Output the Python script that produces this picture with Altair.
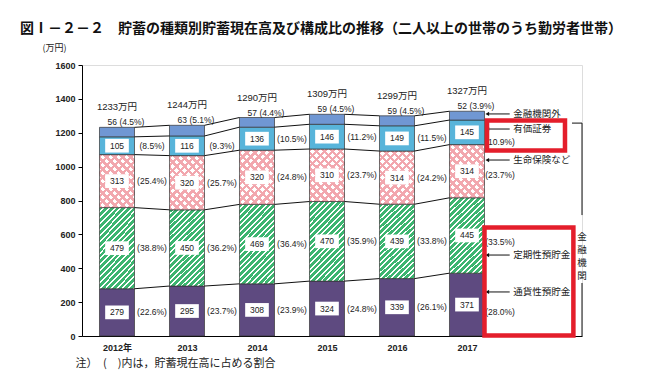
import json
import altair as alt
import pandas as pd

# ---------------- data ----------------
years = ["2012年", "2013", "2014", "2015", "2016", "2017"]
totals = [1233, 1244, 1290, 1309, 1299, 1327]
series_names = ["通貨性預貯金", "定期性預貯金", "生命保険など", "有価証券", "金融機関外"]
tsuka = [279, 295, 308, 324, 339, 371]
tsuka_pct = [22.6, 23.7, 23.9, 24.8, 26.1, 28.0]
teiki = [479, 450, 469, 470, 439, 445]
teiki_pct = [38.8, 36.2, 36.4, 35.9, 33.8, 33.5]
seimei = [313, 320, 320, 310, 314, 314]
seimei_pct = [25.4, 25.7, 24.8, 23.7, 24.2, 23.7]
yuka = [105, 116, 136, 146, 149, 145]
yuka_pct = [8.5, 9.3, 10.5, 11.2, 11.5, 10.9]
gaibu = [56, 63, 57, 59, 59, 52]
gaibu_pct = [4.5, 5.1, 4.4, 4.5, 4.5, 3.9]
y_ticks = [0, 200, 400, 600, 800, 1000, 1200, 1400, 1600]

title_text = "図Ⅰ－２－２　貯蓄の種類別貯蓄現在高及び構成比の推移（二人以上の世帯のうち勤労者世帯）"
unit_text = "(万円)"
note_text = "注）　(　)内は，貯蓄現在高に占める割合"
bracket_text = "金\n融\n機\n関"

# right-hand annotation (for the 2017 bar): arrow heights and percent label heights (万円 units)
ann_arrow_y = [260, 478, 1039, 1222, 1311]
ann_pct_y = [142, 555, 950, 1145, None]

# ---------------- styles ----------------
BAR_HALF = 0.25
JP = "Noto Sans CJK JP"
NUM = "Liberation Sans, Noto Sans CJK JP"
RED = "#E41E2B"


def stripes(col_a, col_b, n, frac, r, direction):
    k = (1 + r) / (1 + r * r)
    stops = []
    for i in range(n):
        s = i / n
        m = (i + frac) / n
        e = (i + 1) / n
        stops += [alt.GradientStop(offset=s, color=col_a), alt.GradientStop(offset=m, color=col_a),
                  alt.GradientStop(offset=m, color=col_b), alt.GradientStop(offset=e, color=col_b)]
    if direction == "/":
        return alt.LinearGradient(gradient="linear", stops=stops, x1=0, y1=0, x2=k * r, y2=k)
    return alt.LinearGradient(gradient="linear", stops=stops, x1=0, y1=1, x2=k * r, y2=1 - k)


green_fill = stripes("#3DB570", "#FFFFFF", 20, 0.66, 35 / 78, "/")
pink_fill_a = stripes("#F2A7AE", "#FFFFFF", 11, 0.42, 35 / 53, "/")
pink_fill_b = stripes("#F2A7AE", "rgba(255,255,255,0)", 11, 0.42, 35 / 53, "\\")

# ---------------- tables ----------------
series_vals = [(series_names[0], tsuka, tsuka_pct), (series_names[1], teiki, teiki_pct),
               (series_names[2], seimei, seimei_pct), (series_names[3], yuka, yuka_pct),
               (series_names[4], gaibu, gaibu_pct)]
rows = []
for i in range(len(years)):
    base = 0
    for name, vals, pcts in series_vals:
        v = vals[i]
        rows.append(dict(idx=i, series=name, value=v, pct=pcts[i], y0=base, y1=base + v,
                         mid=base + v / 2, total=totals[i],
                         top_label=f"{v} ({pcts[i]}%)", pct_label=f"({pcts[i]}%)",
                         total_label=f"{totals[i]}万円"))
        base += v
seg = pd.DataFrame(rows)

conn = []
for i in range(len(years) - 1):
    a = seg[seg.idx == i].reset_index(drop=True)
    b = seg[seg.idx == i + 1].reset_index(drop=True)
    for k in range(len(series_names)):
        conn.append(dict(xa=i + BAR_HALF, xb=i + 1 - BAR_HALF, ya=a.y1[k], yb=b.y1[k]))
conn = pd.DataFrame(conn)

last = len(years) - 1
ann = pd.DataFrame(dict(series=series_names, ay=ann_arrow_y,
                        py=[p if p is not None else -1 for p in ann_pct_y],
                        plabel=[f"({p}%)" for p in [tsuka_pct[last], teiki_pct[last], seimei_pct[last], yuka_pct[last], gaibu_pct[last]]]))
ann["xa"] = last + 0.29
ann["xb"] = last + 0.61
ann["xt"] = last + 0.66
ann["xp"] = last + 0.26

xs = alt.Scale(domain=[-0.5, 6.643], nice=False, zero=False)
ys = alt.Scale(domain=[0, 1600], nice=False, zero=False)

x_axis = alt.Axis(values=list(range(len(years))),
                  labelExpr=json.dumps(years, ensure_ascii=False) + "[datum.value]",
                  ticks=False, grid=False, domainColor="#000", domainWidth=1,
                  labelFont=NUM, labelFontSize=9, labelFontWeight="bold", labelColor="#222",
                  labelPadding=7, title=note_text, titleX=-7, titleY=27, titleAlign="left",
                  titleAnchor="start", titleBaseline="middle", titleFont=JP, titleFontSize=11,
                  titleFontWeight="normal", titleColor="#222")
y_axis = alt.Axis(values=y_ticks, format="d", grid=False, tickSize=4, tickColor="#000", domainColor="#000",
                  labelFont=NUM, labelFontSize=9, labelFontWeight="bold", labelColor="#222",
                  labelPadding=3, title=unit_text, titleAngle=0, titleX=-28, titleY=-18,
                  titleAlign="center", titleBaseline="middle", titleFont=JP, titleFontSize=9,
                  titleFontWeight="normal", titleColor="#222")


def X(f):
    return alt.X(f, type="quantitative", scale=xs, axis=x_axis)


def Y(f):
    return alt.Y(f, type="quantitative", scale=ys, axis=y_axis)


segc = alt.Chart(seg).transform_calculate(xa=f"datum.idx - {BAR_HALF}", xb=f"datum.idx + {BAR_HALF}")


def bars(name, fill, stroke=True):
    kw = dict(fill=fill)
    if stroke:
        kw.update(stroke="#333", strokeWidth=0.7)
    else:
        kw.update(strokeWidth=0)
    c = segc.transform_filter(alt.datum.series == name).mark_rect(**kw)
    return c.encode(x=X("xa"), x2="xb:Q", y=Y("y0"), y2="y1:Q")


layers = [
    bars(series_names[0], "#5E4A80"),
    bars(series_names[1], green_fill),
    bars(series_names[2], pink_fill_a, stroke=False),
    bars(series_names[2], pink_fill_b),
    bars(series_names[3], "#58B4DA"),
    bars(series_names[4], "#7097D3"),
]

# connectors between bars
layers.append(alt.Chart(conn).mark_rule(color="#111", strokeWidth=1).encode(
    x=X("xa"), x2="xb:Q", y=Y("ya"), y2="yb:Q"))

inner = segc.transform_filter(alt.datum.series != series_names[4])
layers.append(inner.mark_point(shape="M-1,-0.58L1,-0.58L1,0.58L-1,0.58Z", size=560, filled=True,
                               fill="white", opacity=1, strokeWidth=0).encode(x=X("idx"), y=Y("mid")))
layers.append(inner.mark_text(font=NUM, fontSize=8.5, color="#222").encode(
    x=X("idx"), y=Y("mid"), text="value:Q"))
# percent labels between bars
layers.append(inner.transform_filter(alt.datum.idx < last).transform_calculate(xp="datum.idx + 0.5")
              .mark_text(font=NUM, fontSize=8.5, color="#222").encode(x=X("xp"), y=Y("mid"), text="pct_label:N"))
# top small labels
topc = segc.transform_filter(alt.datum.series == series_names[4])
layers.append(topc.mark_text(font=NUM, fontSize=8.5, color="#222", dx=9, dy=-5).encode(
    x=X("idx"), y=Y("y1"), text="top_label:N"))
layers.append(topc.mark_text(font=NUM, fontSize=9.5, color="#222", dy=-20).encode(
    x=X("idx"), y=Y("total"), text="total_label:N"))

# right-hand annotations
annc = alt.Chart(ann)
layers.append(annc.mark_rule(color="#111", strokeWidth=1).encode(x=X("xa"), x2="xb:Q", y=Y("ay")))
layers.append(annc.mark_point(shape="triangle-left", size=18, filled=True, color="#111", opacity=1).encode(
    x=X("xa"), y=Y("ay")))
layers.append(annc.mark_text(font=JP, fontSize=9.5, color="#222", align="left").encode(
    x=X("xt"), y=Y("ay"), text="series:N"))
layers.append(annc.transform_filter(alt.datum.py >= 0).mark_text(font=NUM, fontSize=8.5, color="#222", align="left").encode(
    x=X("xp"), y=Y("py"), text="plabel:N"))

# red boxes and bracket
boxes = pd.DataFrame(dict(xa=[5.286, 5.25], xb=[6.4, 6.52], ya=[1095, 3], yb=[1272, 640]))
layers.append(alt.Chart(boxes).mark_rect(fill="transparent", stroke=RED, strokeWidth=4.5).encode(
    x=X("xa"), x2="xb:Q", y=Y("ya"), y2="yb:Q"))
brk = pd.DataFrame(dict(xa=[6.5, 6.643, 6.643], xb=[6.643, 6.643, 6.643], ya=[1257, 1257, 313], yb=[1257, 714, 0]))
layers.append(alt.Chart(brk).mark_rule(color="#111", strokeWidth=1).encode(
    x=X("xa"), x2="xb:Q", y=Y("ya"), y2="yb:Q"))
brt = pd.DataFrame(dict(x=[6.643], y=[582], t=[bracket_text]))
layers.append(alt.Chart(brt).mark_text(font=JP, fontSize=9.5, color="#222", lineBreak="\n", lineHeight=13,
                                       baseline="middle").encode(x=X("x"), y=Y("y"), text="t:N"))

chart = alt.layer(*layers).properties(
    width=500, height=271,
    autosize=alt.AutoSizeParams(type="none"),
    padding={"left": 74, "top": 57, "right": 62, "bottom": 40},
    title=alt.TitleParams(title_text, anchor="start", frame="group", dx=-62, offset=7,
                          font=JP, fontSize=14, fontWeight="bold", color="#111"),
).configure_view(stroke=None).configure(background="white")

chart.save("out.html", embed_options={"renderer": "svg", "actions": False})
